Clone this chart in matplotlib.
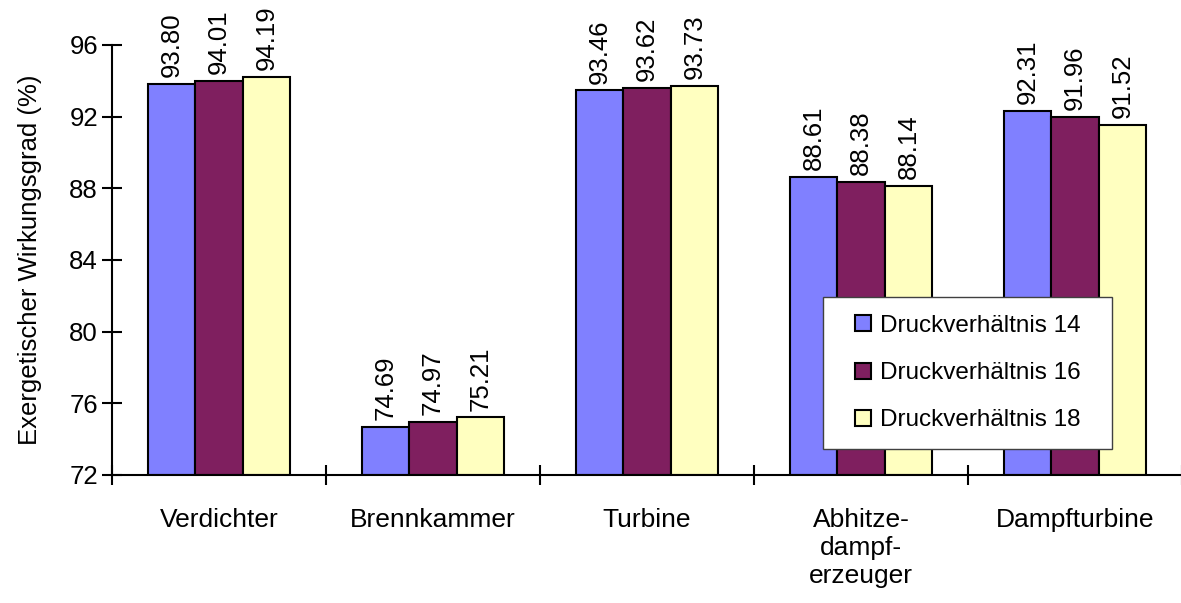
import numpy as np
import matplotlib
matplotlib.use("Agg")
import matplotlib.pyplot as plt
from matplotlib.lines import Line2D

plt.rcParams['font.family'] = ['Liberation Sans', 'DejaVu Sans']

# Exergetischer Wirkungsgrad je Komponente und Druckverhältnis
komponenten = ["Verdichter", "Brennkammer", "Turbine", "Abhitze-\ndampf-\nerzeuger", "Dampfturbine"]
serien = ["Druckverhältnis 14", "Druckverhältnis 16", "Druckverhältnis 18"]
dv14 = [93.80, 74.69, 93.46, 88.61, 92.31]
dv16 = [94.01, 74.97, 93.62, 88.38, 91.96]
dv18 = [94.19, 75.21, 93.73, 88.14, 91.52]
farben = ["#8080FF", "#7F1F5F", "#FFFFC0"]

fig = plt.figure(figsize=(11.81, 6.03), dpi=100)
ax = fig.add_axes([0.0948, 0.2123, 0.906, 0.7131])

x = np.arange(len(komponenten)) + 0.5
breite = 0.222
for i, (werte, name) in enumerate(zip([dv14, dv16, dv18], serien)):
    pos = x + (i - 1) * breite
    ax.bar(pos, np.array(werte) - 72, bottom=72, width=breite, color=farben[i],
           edgecolor="black", linewidth=1.5, zorder=2)
    for px, w in zip(pos, werte):
        ax.annotate(f"{w:.2f}", (px, w), xytext=(0, 5), textcoords="offset points",
                    rotation=90, ha="center", va="bottom", fontsize=18.5)

ax.set_xlim(0, len(komponenten))
ax.set_ylim(72, 96)
ax.set_yticks(np.arange(72, 97, 4))
ax.set_xticks(np.arange(len(komponenten) + 1))
ax.set_xticklabels([])
ax.set_xticks(x, minor=True)
ax.set_xticklabels(komponenten, minor=True, fontsize=19)
ax.tick_params(axis="x", which="minor", length=0, pad=24, labelsize=19)
ax.tick_params(axis="x", which="major", direction="inout", length=14, width=1.5)
ax.tick_params(axis="y", direction="inout", length=14, width=1.5, labelsize=18.5, pad=3)
for s in ["top", "right"]:
    ax.spines[s].set_visible(False)
for s in ["left", "bottom"]:
    ax.spines[s].set_linewidth(1.5)
ax.set_ylabel("Exergetischer Wirkungsgrad (%)", fontsize=18.5, labelpad=20)

# Legende mit kleinen quadratischen Farbfeldern
handles = [Line2D([], [], linestyle="none", marker="s", markersize=11,
                  markerfacecolor=f, markeredgecolor="black", markeredgewidth=1.5)
           for f in farben]
leg = ax.legend(handles, serien, loc="upper left",
                bbox_to_anchor=(0.6645, 0.072, 0.270, 0.342), mode="expand",
                fontsize=17.5, frameon=True, fancybox=False, framealpha=1.0,
                numpoints=1, handlelength=1.8, handletextpad=-0.2,
                labelspacing=1.03, borderpad=0.74, borderaxespad=0)
leg.get_frame().set_edgecolor("#404040")
leg.get_frame().set_linewidth(1.0)
leg.set_zorder(5)

fig.savefig("out.png", dpi=100)
